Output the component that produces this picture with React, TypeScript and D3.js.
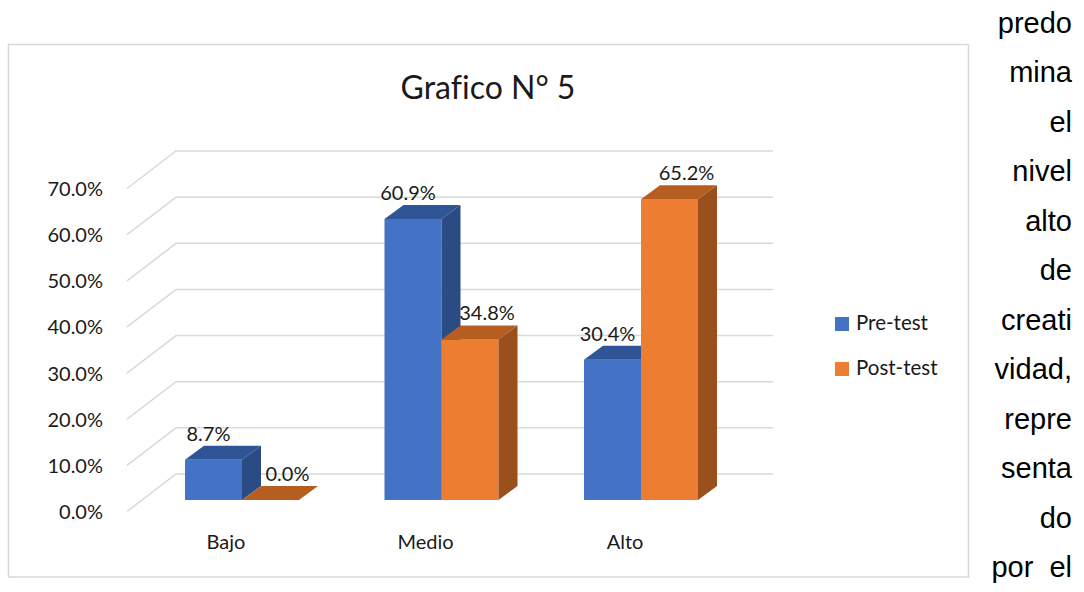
import React from 'react';
import * as d3 from 'd3';

const categories = ['Bajo', 'Medio', 'Alto'];
const seriesNames = ['Pre-test', 'Post-test'];
const preTest = [8.7, 60.9, 30.4];
const postTest = [0.0, 34.8, 65.2];
const yTicks = [0, 10, 20, 30, 40, 50, 60, 70];
const sideText = ['predo', 'mina', 'el', 'nivel', 'alto', 'de', 'creati', 'vidad,', 'repre', 'senta', 'do', 'por\u00a0\u00a0el'];

const W = 1084;
const H = 592;
const FONT = 'Lato, "Open Sans", sans-serif';
const TXT = '#1a1a1a';

const colors = [
  { front: '#4472C4', top: '#2F5597', side: '#2A4B83' },
  { front: '#ED7D31', top: '#B65E22', side: '#9A4F1D' },
];

// 3D layout
const wallBackLeft = 176;
const wallRight = 773;
const wallDx = 49;
const wallDy = 37.5;
const barDx = 19;
const barDy = 14;
const barW = 57;
const barBase = 500;

const yBack = d3.scaleLinear().domain([0, 70]).range([474, 151]);
const yBar = d3.scaleLinear().domain([0, 70]).range([barBase, barBase - 323]);
const x = d3.scaleBand().domain(categories).range([142.25, 740.75]).padding(0);

const series = [preTest, postTest];
const labelDx = [-5, 17];

export default function App() {
  const pts = (arr: number[][]) => arr.map((p) => p.join(',')).join(' ');
  const noLig = { fontVariantLigatures: 'none' as const, fontFeatureSettings: '"liga" 0' };
  return (
    <svg width={W} height={H} style={{ position: 'absolute', left: 0, top: 0, background: '#fff' }}>
      <rect x={0} y={0} width={W} height={H} fill="#fff" />
      {/* chart border */}
      <rect x={8.5} y={44.5} width={960} height={532.5} fill="none" stroke="#d9d9d9" strokeWidth={1.5} />
      {/* title */}
      <text x={488} y={99} textAnchor="middle" fontFamily={FONT} fontSize={32} fill={TXT} style={noLig}>
        Grafico N° 5
      </text>
      {/* gridlines */}
      {yTicks.map((t) => {
        const yb = yBack(t);
        return (
          <polyline
            key={'g' + t}
            points={pts([
              [wallBackLeft - wallDx, yb + wallDy],
              [wallBackLeft, yb],
              [wallRight, yb],
            ])}
            fill="none"
            stroke="#d9d9d9"
            strokeWidth={1.5}
          />
        );
      })}
      {/* y tick labels */}
      {yTicks.map((t) => (
        <text
          key={'t' + t}
          x={103}
          y={yBack(t) + wallDy + 7.5}
          textAnchor="end"
          fontFamily={FONT}
          fontSize={20}
          fill={TXT}
        >
          {t.toFixed(1)}%
        </text>
      ))}
      {/* bars */}
      {categories.map((c, ci) => {
        const cx = (x(c) as number) + x.bandwidth() / 2;
        return (
          <g key={'c' + c}>
            {series.map((s, si) => {
              const v = s[ci];
              const x0 = cx - barW + si * barW;
              const top = yBar(v);
              const col = colors[si];
              return (
                <g key={'b' + si}>
                  <rect x={x0} y={top} width={barW} height={barBase - top} fill={col.front} />
                  <polygon
                    points={pts([
                      [x0, top],
                      [x0 + barW, top],
                      [x0 + barW + barDx, top - barDy],
                      [x0 + barDx, top - barDy],
                    ])}
                    fill={col.top}
                  />
                  <polygon
                    points={pts([
                      [x0 + barW, top],
                      [x0 + barW + barDx, top - barDy],
                      [x0 + barW + barDx, barBase - barDy],
                      [x0 + barW, barBase],
                    ])}
                    fill={col.side}
                  />
                </g>
              );
            })}
          </g>
        );
      })}
      {/* data labels */}
      {categories.map((c, ci) => {
        const cx = (x(c) as number) + x.bandwidth() / 2;
        return series.map((s, si) => {
          const v = s[ci];
          const x0 = cx - barW + si * barW;
          return (
            <text
              key={'l' + ci + si}
              x={x0 + barW / 2 + labelDx[si]}
              y={yBar(v) - 19}
              textAnchor="middle"
              fontFamily={FONT}
              fontSize={20}
              fill={TXT}
            >
              {v.toFixed(1)}%
            </text>
          );
        });
      })}
      {/* category labels */}
      {categories.map((c) => (
        <text
          key={'x' + c}
          x={(x(c) as number) + x.bandwidth() / 2 - 16}
          y={549}
          textAnchor="middle"
          fontFamily={FONT}
          fontSize={20}
          fill={TXT}
        >
          {c}
        </text>
      ))}
      {/* legend */}
      {seriesNames.map((n, i) => (
        <g key={'lg' + n}>
          <rect x={835} y={317 + i * 45} width={14} height={14} fill={colors[i].front} />
          <text x={856} y={330 + i * 45} fontFamily={FONT} fontSize={20.5} fill={TXT}>
            {n}
          </text>
        </g>
      ))}
      {/* side text */}
      {sideText.map((w, i) => (
        <text
          key={'s' + i}
          x={1072}
          y={32.5 + i * 49.5}
          textAnchor="end"
          fontFamily='"Liberation Sans", Arial, sans-serif'
          fontSize={29}
          fill="#000"
        >
          {w}
        </text>
      ))}
    </svg>
  );
}
